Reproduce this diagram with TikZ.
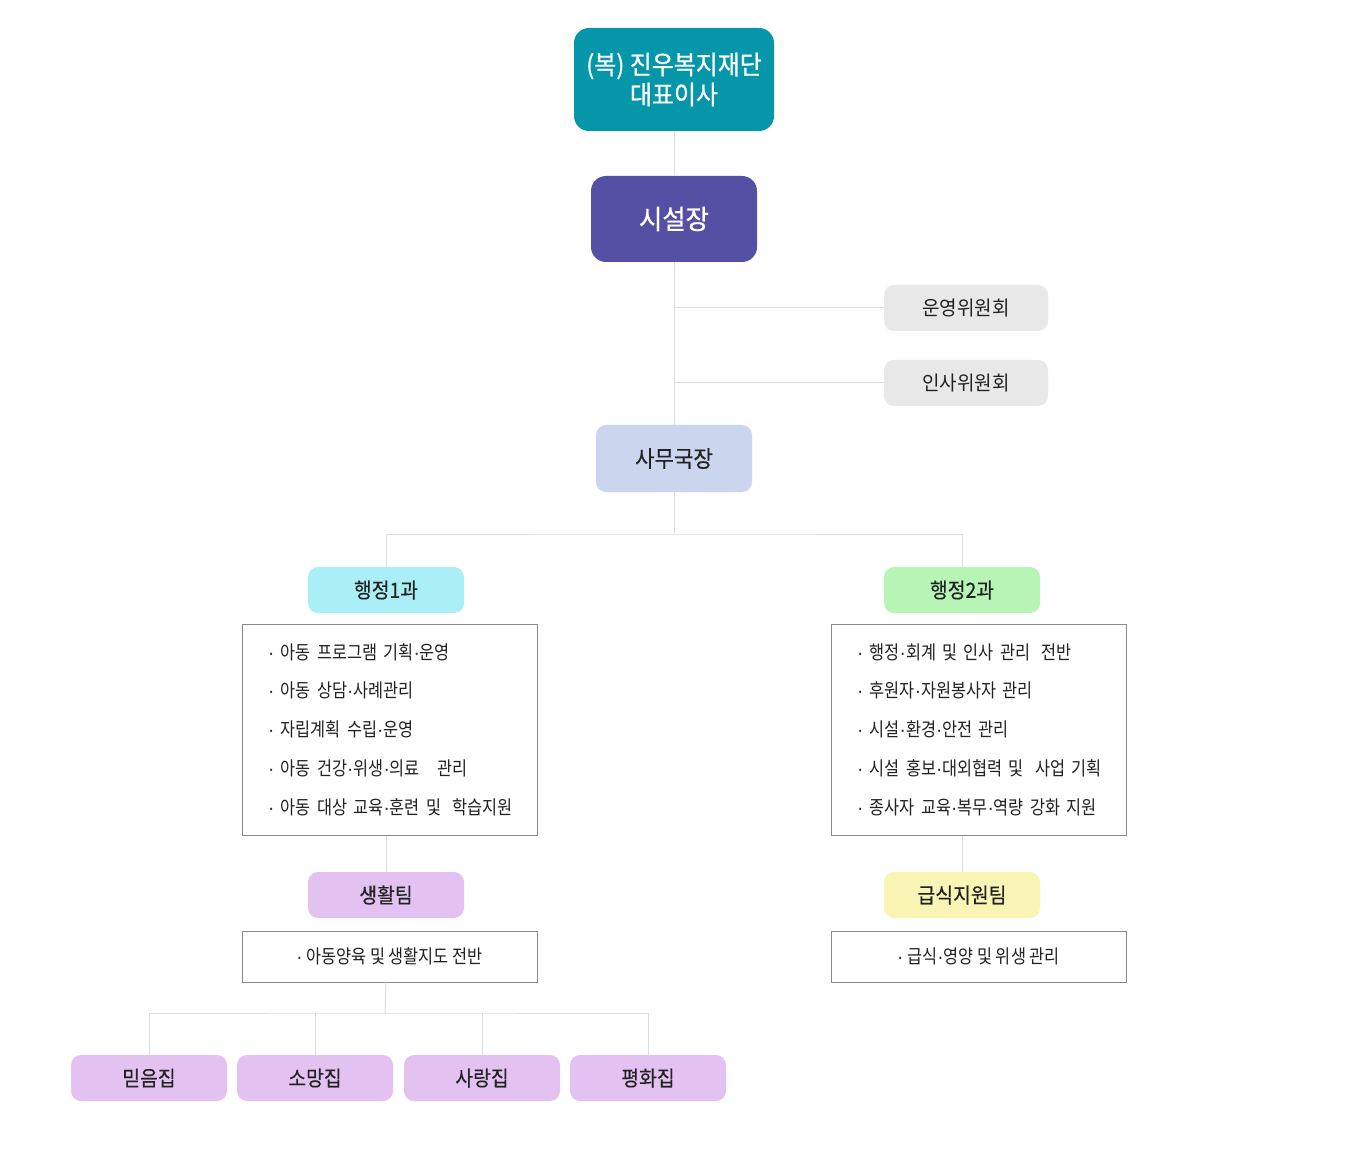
\documentclass[tikz,border=0pt]{standalone}
\usepackage{fontspec}
\setmainfont[FakeStretch=0.86]{Noto Sans CJK KR}
\newfontfamily\krtitle[FakeStretch=0.92,FakeBold=0.8]{Noto Sans CJK KR}
\newfontfamily\krsisul[FakeStretch=0.94,FakeBold=0.8]{Noto Sans CJK KR}
\newfontfamily\krmid[FakeStretch=0.92,FakeBold=0.4]{Noto Sans CJK KR}
\newfontfamily\krcom[FakeStretch=0.95]{Noto Sans CJK KR}
\newfontfamily\dotfont{Liberation Sans}
\newcommand\md{{\dotfont ·}}
\definecolor{cTeal}{RGB}{6,150,169}
\definecolor{cPurple}{RGB}{84,80,164}
\definecolor{cGray}{RGB}{232,232,232}
\definecolor{cBlue}{RGB}{204,213,238}
\definecolor{cCyan}{RGB}{170,238,246}
\definecolor{cGreen}{RGB}{182,245,182}
\definecolor{cLilac}{RGB}{227,193,241}
\definecolor{cYellow}{RGB}{249,245,181}
\definecolor{cLine}{RGB}{221,221,221}
\definecolor{cBorder}{RGB}{138,138,138}
\definecolor{cText}{RGB}{34,34,34}
\begin{document}
\begin{tikzpicture}[x=1pt,y=-1pt,
  conn/.style={draw=cLine,line width=1pt},
  bigbox/.style={rounded corners=15pt,inner sep=0pt,align=center,text=white,
     font=\krtitle\fontsize{26}{30}\selectfont},
  smallbox/.style={rounded corners=10pt,inner sep=0pt,align=center,text=cText,
     minimum width=156pt,minimum height=46pt,font=\krmid\fontsize{21}{25}\selectfont},
  listbox/.style={draw=cBorder,line width=1pt,fill=white,inner xsep=26pt,inner ysep=0pt,
     text width=243pt,minimum height=211pt,align=left,text=cText,
     font=\fontsize{19}{38.75}\selectfont},
  onebox/.style={draw=cBorder,line width=1pt,fill=white,inner sep=0pt,
     minimum width=295pt,minimum height=51pt,align=center,text=cText,
     font=\fontsize{19}{22}\selectfont}]
\useasboundingbox[fill=white] (0,0) rectangle (1345,1174);

\node[bigbox,fill=cTeal,minimum width=200pt,minimum height=103pt] (top) at (674,79.5)
  {(복) 진우복지재단\\대표이사};
\node[bigbox,fill=cPurple,minimum width=166pt,minimum height=86pt,font=\krsisul\fontsize{27}{30}\selectfont] (sisul) at (674,219) {시설장};

\node[smallbox,fill=cGray,minimum width=164pt,font=\krcom\fontsize{20}{24}\selectfont] (unyoung) at (966,308) {운영위원회};
\node[smallbox,fill=cGray,minimum width=164pt,font=\krcom\fontsize{20}{24}\selectfont] (insa) at (966,383) {인사위원회};

\node[smallbox,fill=cBlue,minimum height=67pt,font=\krmid\fontsize{23}{27}\selectfont] (samu) at (674,458.5) {사무국장};

\node[smallbox,fill=cCyan] (h1) at (386,590) {행정1과};
\node[smallbox,fill=cGreen] (h2) at (962,590) {행정2과};

\node[listbox] (list1) at (389.5,729.5) {%
\mbox{\md\ 아동 프로그램 기획\md 운영}\\
\mbox{\md\ 아동 상담\md 사례관리}\\
\mbox{\md\ 자립계획 수립\md 운영}\\
\mbox{\md\ 아동 건강\md 위생\md 의료\hspace{0.9em}관리}\\
\mbox{\md\ 아동 대상 교육\md 훈련 및\hspace{0.6em}학습지원}};
\node[listbox] (list2) at (978.5,729.5) {%
\mbox{\md\ 행정\md 회계 및 인사 관리\hspace{0.6em}전반}\\
\mbox{\md\ 후원자\md 자원봉사자 관리}\\
\mbox{\md\ 시설\md 환경\md 안전 관리}\\
\mbox{\md\ 시설 홍보\md 대외협력 및\hspace{0.6em}사업 기획}\\
\mbox{\md\ 종사자 교육\md 복무\md 역량 강화 지원}};

\node[smallbox,fill=cLilac] (life) at (386,895) {생활팀};
\node[smallbox,fill=cYellow] (food) at (962,895) {급식지원팀};

\node[onebox] (list3) at (389.5,956.5) {\md\ 아동양육 및 생활지도 전반};
\node[onebox] (list4) at (978.5,956.5) {\md\ 급식\md 영양 및 위생 관리};

\node[smallbox,fill=cLilac] (p1) at (149,1078) {믿음집};
\node[smallbox,fill=cLilac] (p2) at (315,1078) {소망집};
\node[smallbox,fill=cLilac] (p3) at (482,1078) {사랑집};
\node[smallbox,fill=cLilac] (p4) at (648,1078) {평화집};

% connectors
\coordinate (split1) at (674,534);
\coordinate (split2) at (385,1013);
\draw[conn] (top.south) -- (sisul.north);
\draw[conn] (sisul.south) -- (samu.north);
\draw[conn] (sisul.south |- unyoung.west) -- (unyoung.west);
\draw[conn] (sisul.south |- insa.west) -- (insa.west);
\draw[conn] (samu.south) -- (split1);
\draw[conn] (h1.north) |- (split1) -| (h2.north);
\draw[conn] (life.north |- list1.south) -- (life.north);
\draw[conn] (food.north |- list2.south) -- (food.north);
\draw[conn] (life.north |- list3.south) -- (split2);
\draw[conn] (p1.north) |- (split2) -| (p4.north);
\draw[conn] (p2.north) -- (p2.north |- split2);
\draw[conn] (p3.north) -- (p3.north |- split2);
\end{tikzpicture}
\end{document}
